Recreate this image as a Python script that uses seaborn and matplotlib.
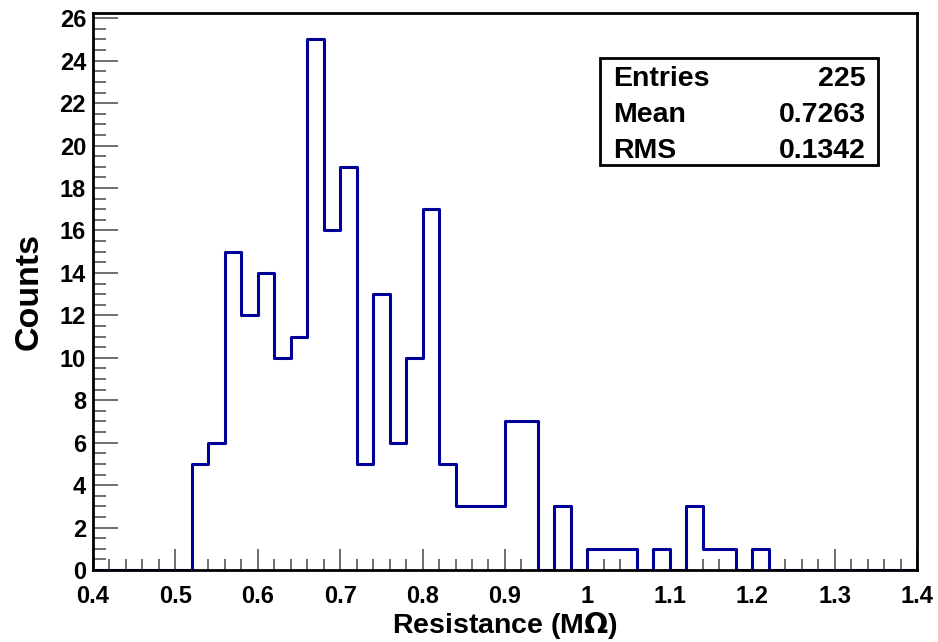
import numpy as np
import pandas as pd
import matplotlib
matplotlib.use("Agg")
import matplotlib.pyplot as plt
import seaborn as sns
from matplotlib.patches import Rectangle
from matplotlib.ticker import MultipleLocator

# histogram: 50 bins of width 0.02 between 0.4 and 1.4
bin_edges = [round(0.40 + 0.02 * i, 2) for i in range(51)]
bin_counts = [0, 0, 0, 0, 0, 0,
              5, 6, 15, 12, 14, 10, 11, 25, 16, 19,
              5, 13, 6, 10, 17, 5, 3, 3, 3, 7,
              7, 0, 3, 0, 1, 1, 1, 0, 1, 0,
              3, 1, 1, 0, 1,
              0, 0, 0, 0, 0, 0, 0, 0, 0]
stat_labels = ["Entries", "Mean", "RMS"]
stat_values = ["225", "0.7263", "0.1342"]

centers = [(a + b) / 2 for a, b in zip(bin_edges[:-1], bin_edges[1:])]
df = pd.DataFrame({"resistance": centers, "counts": bin_counts})

sns.set_style("ticks")
plt.rcParams['font.family'] = ['Liberation Sans', 'DejaVu Sans']
plt.rcParams['font.weight'] = 'bold'
plt.rcParams['text.color'] = 'black'
plt.rcParams['axes.labelcolor'] = 'black'
plt.rcParams['xtick.labelcolor'] = 'black'
plt.rcParams['ytick.labelcolor'] = 'black'

fig = plt.figure(figsize=(9.38, 6.42), dpi=100)
ax = fig.add_axes([0.0991, 0.1121, 0.8785, 0.8677])

sns.histplot(data=df, x="resistance", weights="counts", bins=bin_edges,
             element="step", fill=False, color="#000099", linewidth=2.2, ax=ax)

ax.set_xlim(0.4, 1.4)
ax.set_ylim(0, 26.25)
ax.xaxis.set_major_locator(MultipleLocator(0.1))
ax.xaxis.set_minor_locator(MultipleLocator(0.02))
ax.yaxis.set_major_locator(MultipleLocator(2))
ax.yaxis.set_minor_locator(MultipleLocator(0.5))
ax.xaxis.set_major_formatter(plt.FuncFormatter(lambda v, p: f"{v:g}"))

ax.tick_params(which="major", direction="in", length=15, width=1.2, color="#555555",
               labelsize=17, pad=11, labelcolor="black")
ax.tick_params(which="minor", direction="in", length=8, width=1.2, color="#555555")
ax.tick_params(axis="y", which="major", length=18, pad=5)
ax.tick_params(axis="y", which="minor", length=9)
for lab in ax.get_xticklabels() + ax.get_yticklabels():
    lab.set_fontweight("bold")
for sp in ax.spines.values():
    sp.set_linewidth(2)
    sp.set_color("black")

ax.set_xlabel("Resistance (M$\\Omega$)", fontsize=20.5, fontweight="bold", color="black")
ax.set_ylabel("Counts", fontsize=24.5, fontweight="bold", color="black")
ax.xaxis.set_label_coords(0.5, -0.071)
ax.yaxis.set_label_coords(-0.059, 0.5)

# stats box
x0, x1, y0, y1 = 0.615, 0.953, 0.727, 0.919
ax.add_patch(Rectangle((x0, y0), x1 - x0, y1 - y0, transform=ax.transAxes,
                       fill=True, facecolor="white", edgecolor="black", linewidth=2, zorder=5))
row_h = (y1 - y0) / 3
for i, (lab, val) in enumerate(zip(stat_labels, stat_values)):
    yy = y1 - row_h * (i + 0.5) - 0.006
    ax.text(x0 + 0.016, yy, lab, transform=ax.transAxes, ha="left", va="center",
            fontsize=20.5, fontweight="bold", color="black", zorder=6)
    ax.text(x1 - 0.015, yy, val, transform=ax.transAxes, ha="right", va="center",
            fontsize=20.5, fontweight="bold", color="black", zorder=6)

fig.savefig("out.png", dpi=100)
